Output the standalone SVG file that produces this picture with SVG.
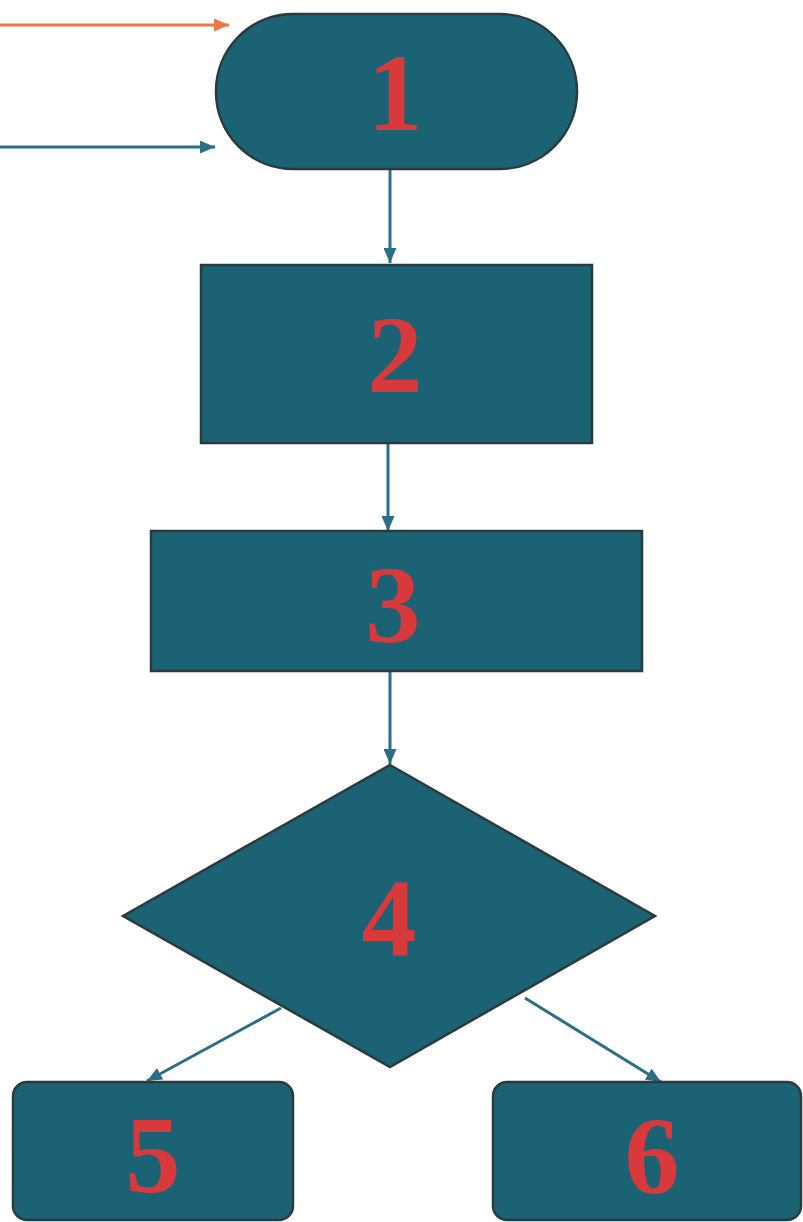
<svg xmlns="http://www.w3.org/2000/svg" width="803" height="1222" viewBox="0 0 803 1222">
  <style>
    .shape { fill: #1b6374; stroke: #2b3a3c; stroke-width: 2.5; }
    .label { font-family: "Liberation Serif", "Times New Roman", serif; font-weight: bold; font-size: 110px; fill: #d8393b; text-anchor: middle; }
    .conn { stroke: #2a6f85; stroke-width: 3; fill: none; }
    .conn-orange { stroke: #f07545; stroke-width: 3; fill: none; }
  </style>
  <defs>
    <marker id="arrTeal" markerUnits="userSpaceOnUse" markerWidth="15" markerHeight="13" refX="15" refY="6.5" orient="auto">
      <path d="M0,0 L15,6.5 L0,13 Z" fill="#2a6f85"/>
    </marker>
    <marker id="arrOrange" markerUnits="userSpaceOnUse" markerWidth="15" markerHeight="13" refX="15" refY="6.5" orient="auto">
      <path d="M0,0 L15,6.5 L0,13 Z" fill="#f07545"/>
    </marker>
  </defs>
  <rect width="803" height="1222" fill="#ffffff"/>

  <g id="connectors">
    <line class="conn-orange" x1="0" y1="25" x2="229" y2="25" marker-end="url(#arrOrange)"/>
    <line class="conn" x1="0" y1="147" x2="215" y2="147" marker-end="url(#arrTeal)"/>
    <line class="conn" x1="390" y1="170" x2="390" y2="263" marker-end="url(#arrTeal)"/>
    <line class="conn" x1="388" y1="444" x2="388" y2="531" marker-end="url(#arrTeal)"/>
    <line class="conn" x1="390" y1="672" x2="390" y2="764" marker-end="url(#arrTeal)"/>
    <line class="conn" x1="281" y1="1008" x2="147" y2="1081" marker-end="url(#arrTeal)"/>
    <line class="conn" x1="525" y1="998" x2="661" y2="1082" marker-end="url(#arrTeal)"/>
  </g>

  <g id="node1">
    <rect class="shape" x="216" y="14" width="361" height="155" rx="77" ry="77"/>
    <text class="label" x="395" y="130">1</text>
  </g>
  <g id="node2">
    <rect class="shape" x="201" y="265" width="391" height="178"/>
    <text class="label" x="395" y="392">2</text>
  </g>
  <g id="node3">
    <rect class="shape" x="151" y="531" width="491" height="140"/>
    <text class="label" x="393" y="642">3</text>
  </g>
  <g id="node4">
    <polygon class="shape" points="390,765 655,916 390,1067 123,916"/>
    <text class="label" x="389" y="955">4</text>
  </g>
  <g id="node5">
    <rect class="shape" x="13" y="1082" width="280" height="138" rx="14" ry="14"/>
    <text class="label" x="153" y="1192">5</text>
  </g>
  <g id="node6">
    <rect class="shape" x="493" y="1082" width="308" height="138" rx="14" ry="14"/>
    <text class="label" x="652" y="1193">6</text>
  </g>
</svg>
